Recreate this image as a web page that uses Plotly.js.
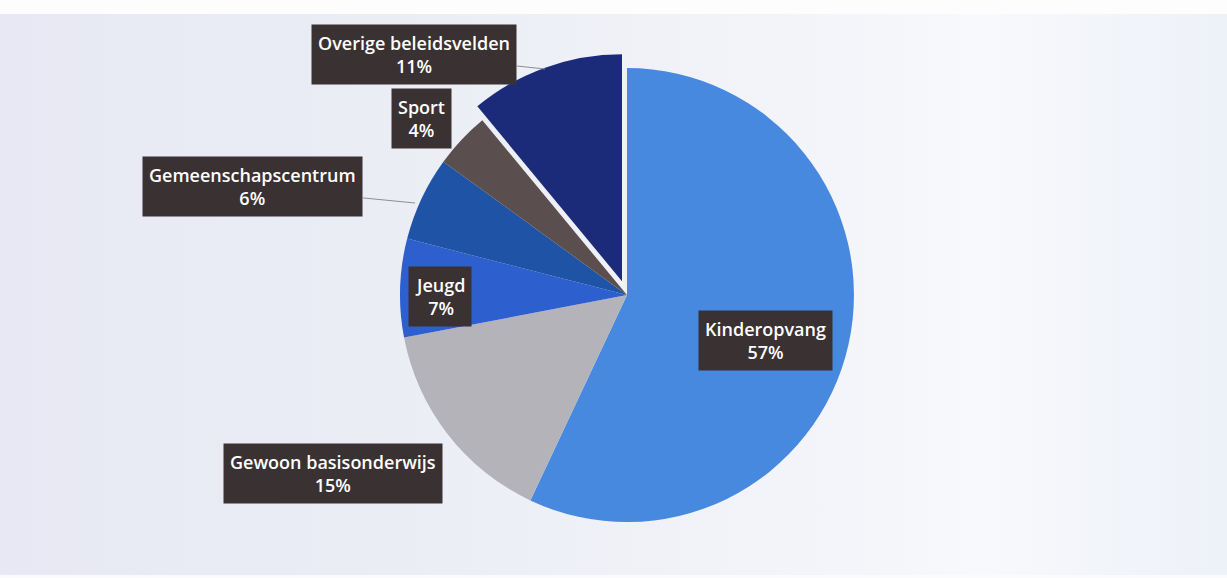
<!DOCTYPE html>
<html>
<head>
<meta charset="utf-8">
<script src="https://cdn.plot.ly/plotly-3.0.1.min.js"></script>
<style>
  html, body { margin: 0; padding: 0; background: #ffffff; }
  #chart {
    width: 1227px; height: 578px;
    background: linear-gradient(90deg, #e7e8f3 0%, #eaecf5 25%, #eff1f7 50%, #f5f6fa 72%, #f8f9fc 80%, #edf1f8 100%);
  }
  #wrap { position: relative; width: 1227px; height: 578px; }
  #topband { position:absolute; left:0; top:0; width:1227px; height:14px; background:#fdfdfe; z-index:2; }
  #botband { position:absolute; left:0; top:575px; width:1227px; height:3px; background:#fbfbfd; z-index:2; }
</style>
</head>
<body>
<div id="wrap"><div id="topband"></div><div id="chart"></div><div id="botband"></div></div>
<script>
// ---- data ----
const categories = ["Kinderopvang", "Gewoon basisonderwijs", "Jeugd", "Gemeenschapscentrum", "Sport", "Overige beleidsvelden"];
const shares = [57, 15, 7, 6, 4, 11];
const percentLabels = ["57%", "15%", "7%", "6%", "4%", "11%"];

// ---- styles ----
const sliceColors = ["#4889e0", "#b4b3ba", "#2d5fcf", "#1f53a6", "#5b4e4f", "#1b2b7a"];
const pulls = [0, 0, 0, 0, 0, 0.065];

const W = 1227, H = 578;
const px = x => x / W;
const py = y => 1 - y / H;

// label box placements (pixels): centre of box, optional leader tip
const labelPlacement = [
  {cx: 765, cy: 340},
  {cx: 333, cy: 473},
  {cx: 440, cy: 296},
  {cx: 252, cy: 187, tipX: 415, tipY: 203},
  {cx: 421, cy: 118},
  {cx: 414, cy: 55, tipX: 545, tipY: 69}
];

const annotations = categories.map((c, i) => {
  const p = labelPlacement[i];
  const base = {
    text: c + "<br>" + percentLabels[i],
    xref: "paper", yref: "paper",
    font: {family: "Open Sans, Lato, sans-serif", size: 18, color: "#ffffff", weight: 600},
    bgcolor: "#3a3132",
    borderpad: 6,
    align: "center"
  };
  if (p.tipX !== undefined) {
    return Object.assign(base, {
      x: px(p.tipX), y: py(p.tipY),
      showarrow: true, arrowhead: 0, arrowwidth: 1, arrowcolor: "#8a8f96",
      ax: p.cx - p.tipX, ay: p.cy - p.tipY, standoff: 0
    });
  }
  return Object.assign(base, {
    x: px(p.cx), y: py(p.cy), xanchor: "center", yanchor: "middle", showarrow: false
  });
});

const trace = {
  type: "pie",
  labels: categories,
  values: shares,
  sort: false,
  direction: "clockwise",
  rotation: 0,
  pull: pulls,
  marker: {colors: sliceColors, line: {color: "#ffffff", width: 0}},
  textinfo: "none",
  hoverinfo: "label+percent",
  domain: {x: [0.314, 0.708], y: [0.071, 0.908]},
  showlegend: false
};

const layout = {
  width: W, height: H,
  margin: {l: 0, r: 0, t: 0, b: 0},
  paper_bgcolor: "rgba(0,0,0,0)",
  plot_bgcolor: "rgba(0,0,0,0)",
  showlegend: false,
  annotations: annotations
};

Plotly.newPlot("chart", [trace], layout, {displayModeBar: false, staticPlot: true});
</script>
</body>
</html>
